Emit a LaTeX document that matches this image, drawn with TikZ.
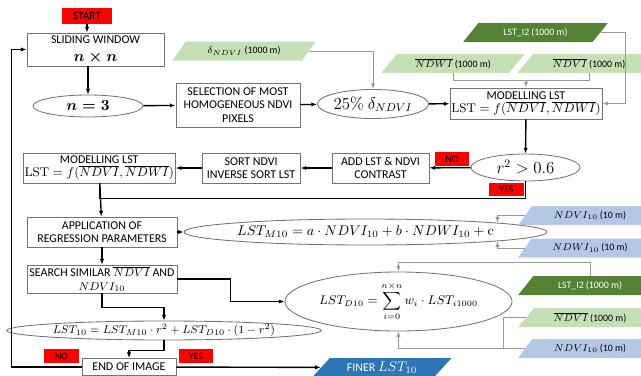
\documentclass[tikz,border=0pt]{standalone}
\usepackage{amsmath}
\usepackage{amssymb}
\usepackage[no-math]{fontspec}
\setmainfont{Carlito}
\usepackage{tikz}
\usetikzlibrary{arrows.meta, positioning, shapes.geometric}
\definecolor{lgreen}{HTML}{C5E0B4}
\definecolor{dgreen}{HTML}{548235}
\definecolor{lblue}{HTML}{B4C7E7}
\definecolor{dblue}{HTML}{2E75B6}
\tikzset{%
	box/.style={draw=gray!90!black, line width=0.6pt, rectangle, align=center,%
		inner sep=1pt, fill=white, font=\fontsize{8.5}{9.5}\selectfont},
	oval/.style={draw=gray!90!black, line width=0.6pt, ellipse, inner sep=0pt, fill=white},
	inp/.style={trapezium, trapezium left angle=45, trapezium right angle=135,%
		trapezium stretches=true, inner sep=0pt, minimum width=3.6cm,%
		minimum height=0.475cm, font=\fontsize{7}{8}\selectfont},
	flag/.style={fill=red, inner sep=0pt, font=\fontsize{7}{8}\selectfont},
	flow/.style={->, line width=1pt},
	line/.style={line width=1pt},
	feed/.style={->, gray!80, line width=0.7pt},
	feedline/.style={gray!80, line width=0.7pt}
}

\begin{document}
\begin{tikzpicture}[x=0.025cm, y=-0.025cm, >={Latex[length=4pt,width=3pt]}]
	\useasboundingbox (0,0) rectangle (641,376);

	% left column and top row
	\node[flag, minimum width=1.25cm, minimum height=0.4cm, font=\fontsize{8}{9}\selectfont] (start) at (87,16) {START};
	\node[box, minimum width=3.425cm, minimum height=0.825cm] (slide) at (95.5,49.5) {SLIDING WINDOW\\[3.5pt] \fontsize{11}{12}\selectfont$\boldsymbol{n\times n}$};
	\node[oval, minimum width=2.75cm, minimum height=0.55cm] (nthree) at (88,106) {\fontsize{11}{12}\selectfont$\boldsymbol{n=3}$};
	\node[box, minimum width=3.1cm, minimum height=1.1cm] (select) at (238,105) {SELECTION OF MOST\\HOMOGENEOUS NDVI\\PIXELS};
	\node[inp, fill=lgreen] (dnd) at (244,51) {$\delta_{NDVI}$ (1000 m)};
	\node[oval, minimum width=2.725cm, minimum height=0.725cm] (pct) at (373,104) {\fontsize{12}{13}\selectfont$25\%\ \delta_{NDVI}$};
	\node[box, minimum width=3.75cm, minimum height=0.775cm] (modtop) at (526,103.5) {MODELLING LST\\ \fontsize{9}{10}\selectfont$\mathrm{LST}=f(\overline{NDVI},\overline{NDWI})$};
	\node[inp, fill=dgreen, text=white, minimum width=3.625cm] (lsti2a) at (535.5,32.5) {LST\_I2 (1000 m)};
	\node[inp, fill=lgreen] (ndwibar) at (453,63.5) {$\overline{NDWI}$ (1000 m)};
	\node[inp, fill=lgreen] (ndvibara) at (589,63.5) {$\overline{NDVI}$ (1000 m)};

	% test of the fit
	\node[oval, minimum width=2.725cm, minimum height=0.675cm] (rsq) at (525.5,167.5) {\fontsize{12}{13}\selectfont$r^2>0.6$};
	\node[flag, minimum width=0.85cm, minimum height=0.35cm] (no1) at (452,159) {NO};
	\node[flag, minimum width=0.875cm, minimum height=0.325cm] (yes1) at (506.5,189.5) {YES};
	\node[box, minimum width=2.425cm, minimum height=0.75cm] (addc) at (380.5,168) {ADD LST \& NDVI\\CONTRAST};
	\node[box, minimum width=2.45cm, minimum height=0.75cm, left=0.775cm of addc] (sortn) {SORT NDVI\\INVERSE SORT LST};
	\node[box, minimum width=3.75cm, minimum height=0.75cm, left=0.65cm of sortn] (modleft) {MODELLING LST\\ \fontsize{9}{10}\selectfont$\mathrm{LST}=f(\overline{NDVI},\overline{NDWI})$};

	% downscaling
	\node[box, minimum width=3.75cm, minimum height=0.75cm] (apply) at (102,232) {APPLICATION OF\\REGRESSION PARAMETERS};
	\node[oval, minimum width=8.375cm, minimum height=0.65cm] (lstm) at (365.5,232) {\fontsize{10}{11}\selectfont$LST_{M10}=a\cdot NDVI_{10}+b\cdot NDWI_{10}+\mathrm{c}$};
	\node[inp, fill=lblue] (ndvi10a) at (590,215.5) {$NDVI_{10}$ (10 m)};
	\node[inp, fill=lblue] (ndwi10) at (590,248) {$NDWI_{10}$ (10 m)};
	\node[box, minimum width=3.75cm, minimum height=0.7cm] (search) at (102,279) {SEARCH SIMILAR $\overline{NDVI}$ AND\\$NDVI_{10}$};
	\node[oval, minimum width=5.675cm, minimum height=1.475cm] (lstd) at (398.5,301.5) {\fontsize{9}{10}\selectfont$\displaystyle LST_{D10}=\sum_{i=0}^{n\times n} w_i\cdot LST_{i1000}$};
	\node[inp, fill=dgreen, text=white] (lsti2b) at (590,285.5) {LST\_I2 (1000 m)};
	\node[inp, fill=lgreen] (ndvibarb) at (590,317.5) {$\overline{NDVI}$ (1000 m)};
	\node[inp, fill=lblue] (ndvi10b) at (590,348.5) {$NDVI_{10}$ (10 m)};
	\node[oval, minimum width=7.55cm, minimum height=0.475cm, inner ysep=-1.5pt] (lstten) at (164,330.5) {\fontsize{8.5}{9.5}\selectfont$LST_{10}=LST_{M10}\cdot r^2+LST_{D10}\cdot(1-r^2)$};
	\node[box, minimum width=2.35cm, minimum height=0.425cm] (endimg) at (129,367) {END OF IMAGE};
	\node[flag, minimum width=0.875cm, minimum height=0.35cm] (no2) at (61.5,356) {NO};
	\node[flag, minimum width=0.85cm, minimum height=0.35cm] (yes2) at (196,356) {YES};
	\node[inp, fill=dblue, text=white, minimum width=3.5cm, font=\fontsize{8.5}{9.5}\selectfont] (finer) at (382,367.5) {FINER \fontsize{10}{11}\selectfont$LST_{10}$};

	\draw[flow] (start) -- (start |- slide.north);
	\draw[flow] (nthree |- slide.south) -- (nthree);
	\draw[flow] (nthree) -- (select);
	\draw[flow] (select) -- (pct);
	\draw[flow] (pct) -- (modtop);
	\draw[flow] (modtop) -- (rsq);
	\draw[flow] (rsq) -- (addc);
	\draw[flow] (addc) -- (sortn);
	\draw[flow] (sortn) -- (modleft);
	\draw[flow] (modleft) -- (apply);
	\draw[line] (rsq.south) -- ++(0,17) -| (modleft.south);
	\draw[flow] (apply) -- (lstm);
	\draw[flow] (apply) -- (search);
	\draw[flow] (search.east) -- ++(53,0) |- (lstd.west);
	\draw[flow] (search.south) -- ++(0,14) -| (lstten.north);
	\draw[flow] (lstten.south) -- ++(0,10) -| (endimg.north);
	\draw[flow] (endimg.west) -- ++(-70,0) |- (slide.west);
	\draw[flow] (endimg) -- (finer);

	% inputs
	\draw[feed] (dnd.east) -| (pct.north);
	\draw[feed] (lsti2a.east) -- ++(25,0) |- (modtop.east);
	\draw[feedline] (ndwibar.south) -- ++(0,7) coordinate (bj) -| (ndvibara.south);
	\draw[feed] (bj -| modtop.north) -- (modtop.north);
	\draw[feed] (ndvi10a.west) -| (lstm.4.4);
	\draw[feed] (ndwi10.west) -| (lstm.-4.4);
	\draw[feed] (lsti2b.north) -- ++(0,-13) -| (lstd.north);
	\draw[feedline] (ndvibarb.west) -- ++(-22,0) |- (ndvi10b.west);
	\draw[feed] (ndvi10b.west) -| (lstd.south);
\end{tikzpicture}
\end{document}
